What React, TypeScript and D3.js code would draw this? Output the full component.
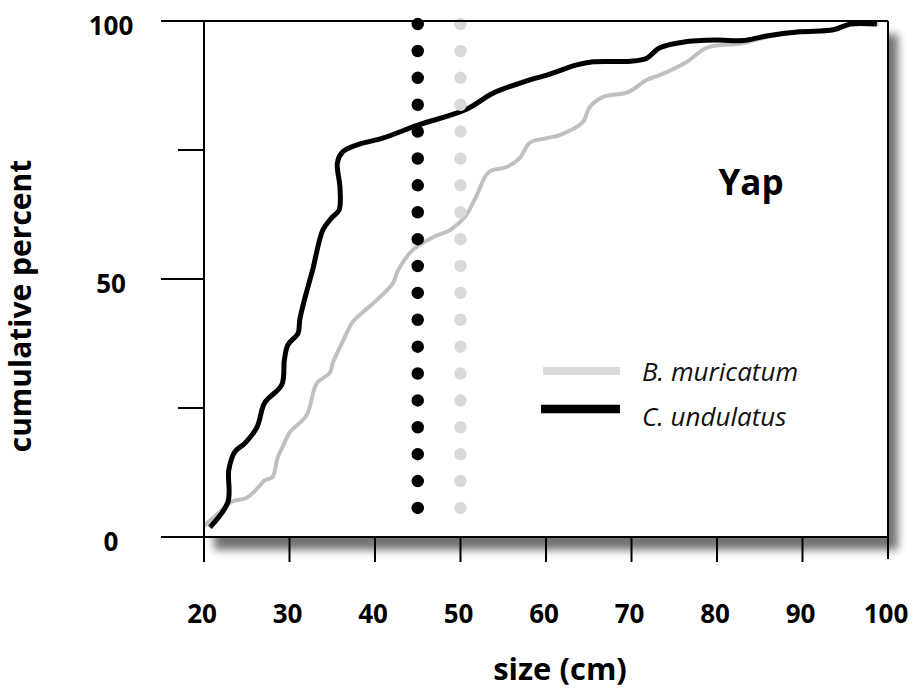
import * as d3 from "d3";

// cumulative size distributions, Yap
const sizeTicks = [20, 30, 40, 50, 60, 70, 80, 90, 100];
const percentTicks = [0, 25, 50, 75, 100];
const percentLabels = [0, 50, 100];

const undulatusSize = [20.7, 22.8, 22.9, 23.6, 24.8, 26.2, 27.1, 29.1, 29.4, 29.8, 31.0, 31.2, 31.8, 32.7, 33.9, 34.9, 35.8, 35.9, 35.6, 36.2, 37.9, 40.9, 45.0, 50.7, 53.8, 58.1, 60.1, 63.6, 65.5, 69.8, 71.8, 73.3, 76.0, 80.0, 83.0, 85.8, 89.7, 93.6, 95.6, 98.7];
const undulatusPct = [1.9, 6.8, 13.0, 16.5, 18.2, 21.3, 26.0, 29.5, 34.3, 37.2, 39.5, 42.1, 46.3, 51.7, 59.5, 61.8, 63.4, 67.8, 72.5, 74.6, 76.0, 77.3, 79.8, 82.9, 86.0, 88.6, 89.5, 91.5, 92.1, 92.2, 92.8, 94.8, 95.9, 96.3, 96.2, 97.1, 97.9, 98.3, 99.4, 99.4];

const muricatumSize = [20.1, 21.5, 23.2, 25.0, 26.5, 27.1, 28.0, 28.6, 29.4, 30.0, 32.0, 33.2, 34.7, 35.1, 36.2, 37.4, 38.6, 40.2, 42.1, 42.7, 44.4, 46.8, 48.8, 50.5, 51.8, 53.3, 55.4, 56.9, 58.1, 60.1, 61.6, 64.3, 65.1, 66.7, 69.6, 71.8, 73.3, 76.5, 78.8, 83.0, 85.8, 89.7, 93.6, 95.6, 98.7];
const muricatumPct = [2.3, 4.3, 6.8, 7.6, 9.9, 11.0, 11.6, 15.3, 18.2, 20.2, 23.6, 29.8, 31.8, 33.9, 37.8, 41.7, 43.6, 45.9, 49.2, 51.7, 55.6, 58.1, 59.5, 62.0, 65.9, 70.7, 71.7, 73.4, 76.4, 77.3, 77.9, 80.4, 83.3, 85.3, 86.2, 88.6, 89.5, 92.1, 94.8, 95.7, 96.9, 97.9, 98.3, 99.4, 99.4];

// dotted cut-off lines (size, colour)
const cutoffSizes = [45, 50];
const cutoffColors = ["#000000", "#d9d9d9"];
const cutoffPct = [5.6, 99.4];
const dotCount = 19;

const width = 914;
const height = 690;
const font = "'Open Sans', 'DejaVu Sans', sans-serif";

export default function App() {
  const x = d3.scaleLinear().domain([20, 100]).range([204, 888]);
  const y = d3.scaleLinear().domain([0, 100]).range([537, 21]);

  const line = d3
    .line<[number, number]>()
    .x((d) => x(d[0]))
    .y((d) => y(d[1]))
    .curve(d3.curveCatmullRom.alpha(0.5));

  const undulatus = d3.zip(undulatusSize, undulatusPct) as [number, number][];
  const muricatum = d3.zip(muricatumSize, muricatumPct) as [number, number][];

  const left = x(20);
  const right = x(100);
  const top = y(100);
  const bottom = y(0);
  const dotLen = y(cutoffPct[0]) - y(cutoffPct[1]);
  const dotGap = dotLen / (dotCount - 1) - 0.01;

  return (
    <svg
      width={width}
      height={height}
      style={{ position: "absolute", left: 0, top: 0, background: "#fff" }}
      fontFamily={font}
    >
      <defs>
        <filter id="shadow" x="-10%" y="-10%" width="130%" height="130%">
          <feGaussianBlur in="SourceAlpha" stdDeviation="4.5" />
          <feOffset dx="10" dy="13" result="off" />
          <feComponentTransfer>
            <feFuncA type="linear" slope="0.55" />
          </feComponentTransfer>
          <feMerge>
            <feMergeNode />
            <feMergeNode in="SourceGraphic" />
          </feMerge>
        </filter>
      </defs>

      {/* plot panel with drop shadow */}
      <rect x={left} y={top} width={right - left} height={bottom - top} fill="#fff" filter="url(#shadow)" />

      {/* curves */}
      <path d={line(muricatum) ?? ""} fill="none" stroke="#c0c0c0" strokeWidth={4} strokeLinejoin="round" strokeLinecap="round" />
      <path d={line(undulatus) ?? ""} fill="none" stroke="#000" strokeWidth={5} strokeLinejoin="round" strokeLinecap="butt" />

      {/* dotted cut-offs */}
      {cutoffSizes.map((c, i) => (
        <line
          key={c}
          x1={x(c)}
          x2={x(c)}
          y1={y(cutoffPct[1])}
          y2={y(cutoffPct[0])}
          stroke={cutoffColors[i]}
          strokeWidth={12.5}
          strokeLinecap="round"
          strokeDasharray={`0 ${dotGap}`}
        />
      ))}

      {/* frame */}
      <g stroke="#000" strokeWidth={2} fill="none">
        <line x1={left} x2={right} y1={top} y2={top} />
        <line x1={left} x2={right} y1={bottom} y2={bottom} />
        <line x1={left} x2={left} y1={top} y2={bottom} />
        <line x1={right} x2={right} y1={top} y2={bottom + 22} />
        {percentTicks.map((t) => (
          <line key={t} x1={left - (t % 50 === 0 ? 43 : 26)} x2={left} y1={y(t)} y2={y(t)} />
        ))}
        {sizeTicks.slice(0, -1).map((t) => (
          <line key={t} x1={x(t)} x2={x(t)} y1={bottom} y2={bottom + 25} />
        ))}
      </g>

      {/* tick labels */}
      <g fontWeight={700} fontSize={26} fill="#000" textAnchor="middle">
        {percentLabels.map((t) => (
          <text key={t} x={111} y={y(t) + 4} dominantBaseline="central">
            {t}
          </text>
        ))}
        {sizeTicks.map((t) => (
          <text key={t} x={x(t) - 2} y={623}>
            {t}
          </text>
        ))}
      </g>

      {/* axis titles */}
      <text x={560} y={680} textAnchor="middle" fontWeight={700} fontSize={31}>
        size (cm)
      </text>
      <text transform="translate(31,306) rotate(-90)" textAnchor="middle" fontWeight={700} fontSize={30}>
        cumulative percent
      </text>

      {/* site label */}
      <text x={751} y={195} textAnchor="middle" fontWeight={700} fontSize={35}>
        Yap
      </text>

      {/* legend */}
      <g>
        <line x1={543} x2={620} y1={371} y2={371} stroke="#d9d9d9" strokeWidth={8} />
        <line x1={541} x2={620} y1={409} y2={409} stroke="#000" strokeWidth={8.5} />
        <text x={642} y={381} fontStyle="italic" fontSize={26} fill="#111">
          B. muricatum
        </text>
        <text x={642} y={426} fontStyle="italic" fontSize={26} fill="#111">
          C. undulatus
        </text>
      </g>
    </svg>
  );
}
